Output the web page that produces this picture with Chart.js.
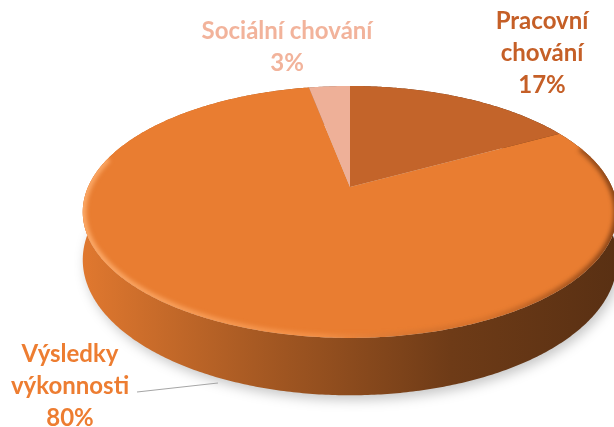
<!DOCTYPE html>
<html>
<head>
<meta charset="utf-8">
<script src="https://cdn.jsdelivr.net/npm/chart.js@4.4.1/dist/chart.umd.min.js"></script>
<style>
    html, body { margin: 0; padding: 0; background: #fff; }
    canvas { display: block; }
</style>
</head>
<body>
<canvas id="pieChart" width="614" height="427"></canvas>
<script>
const categories = [['Pracovní', 'chování'], ['Výsledky', 'výkonnosti'], ['Sociální chování']];
const shares = [17, 80, 3];
const sliceColors = ['#C3642A', '#E97D31', '#EEB098'];
const labelColors = ['#C55F27', '#ED7D31', '#F2B39B'];

// where each label block sits (first baseline, centred)
const labelAnchors = [
    { x: 542, y: 29 },
    { x: 70, y: 362 },
    { x: 287, y: 39 },
];

// perspective of the tilted disc, in units of the pie radius
const SX = 2.015;   // horizontal stretch
const SY = 0.931;   // vertical stretch
const K = 0.198;    // far side shrinks by this much
const DEPTH = 0.354; // thickness of the disc

function project(arc, a, depth) {
    const R = arc.outerRadius;
    const u = Math.cos(a);
    const v = -Math.sin(a); // positive toward the back
    const w = 1 + K * v;
    return {
        x: arc.x + SX * R * u / w,
        y: arc.y - SY * R * v / w + depth * R / w
    };
}

function edge(arc, a0, a1, depth) {
    const n = Math.max(2, Math.ceil(Math.abs(a1 - a0) / 0.01));
    const pts = [];
    for (let i = 0; i <= n; i++) {
        pts.push(project(arc, a0 + (a1 - a0) * i / n, depth));
    }
    return pts;
}

function shade(hex, f) {
    const n = parseInt(hex.slice(1), 16);
    const r = Math.round(((n >> 16) & 255) * f);
    const g = Math.round(((n >> 8) & 255) * f);
    const b = Math.round((n & 255) * f);
    return 'rgb(' + r + ',' + g + ',' + b + ')';
}

const pie3d = {
    id: 'pie3d',
    beforeDatasetsDraw(chart) {
        const ctx = chart.ctx;
        const arcs = chart.getDatasetMeta(0).data;
        const first = arcs[0];
        const R = first.outerRadius;
        const left = first.x - SX * R * 1.02;
        const right = first.x + SX * R * 1.02;

        // soft shadow under the disc
        ctx.save();
        ctx.filter = 'blur(6px)';
        ctx.fillStyle = 'rgba(0,0,0,0.22)';
        ctx.beginPath();
        edge(first, 0, Math.PI * 2, DEPTH + 0.03).forEach((p, i) => i ? ctx.lineTo(p.x + 3, p.y) : ctx.moveTo(p.x + 3, p.y));
        ctx.closePath();
        ctx.fill();
        ctx.restore();

        // outer wall of each slice
        arcs.forEach((arc, i) => {
            const top = edge(arc, arc.startAngle, arc.endAngle, 0);
            const bottom = edge(arc, arc.endAngle, arc.startAngle, DEPTH);
            const grad = ctx.createLinearGradient(left, 0, right, 0);
            grad.addColorStop(0, shade(sliceColors[i], 0.96));
            grad.addColorStop(0.32, shade(sliceColors[i], 0.72));
            grad.addColorStop(0.69, shade(sliceColors[i], 0.47));
            grad.addColorStop(1, shade(sliceColors[i], 0.38));
            ctx.save();
            ctx.fillStyle = grad;
            ctx.beginPath();
            top.concat(bottom).forEach((p, j) => j ? ctx.lineTo(p.x, p.y) : ctx.moveTo(p.x, p.y));
            ctx.closePath();
            ctx.fill();
            ctx.restore();
        });

        // top faces
        arcs.forEach((arc, i) => {
            ctx.save();
            ctx.fillStyle = sliceColors[i];
            ctx.beginPath();
            ctx.moveTo(arc.x, arc.y);
            edge(arc, arc.startAngle, arc.endAngle, 0).forEach(p => ctx.lineTo(p.x, p.y));
            ctx.closePath();
            ctx.fill();
            ctx.restore();
        });

        // bevel along the front rim
        ctx.save();
        ctx.beginPath();
        edge(first, 0, Math.PI * 2, 0).forEach((p, i) => i ? ctx.lineTo(p.x, p.y) : ctx.moveTo(p.x, p.y));
        ctx.closePath();
        ctx.clip();
        const rim = ctx.createLinearGradient(left, 0, right, 0);
        rim.addColorStop(0, 'rgba(255,178,115,0.85)');
        rim.addColorStop(0.45, 'rgba(255,165,95,0.45)');
        rim.addColorStop(0.75, 'rgba(120,55,15,0.15)');
        rim.addColorStop(1, 'rgba(80,35,8,0.65)');
        ctx.strokeStyle = rim;
        ctx.lineWidth = 7;
        ctx.filter = 'blur(2px)';
        ctx.beginPath();
        edge(first, -0.35, Math.PI + 0.25, 0).forEach((p, i) => i ? ctx.lineTo(p.x, p.y) : ctx.moveTo(p.x, p.y));
        ctx.stroke();
        ctx.restore();

        return false;
    },
    afterDraw(chart) {
        const ctx = chart.ctx;
        const total = shares.reduce((a, b) => a + b, 0);
        ctx.save();
        ctx.font = 'bold 24px Lato';
        ctx.textAlign = 'center';
        ctx.textBaseline = 'alphabetic';
        categories.forEach((lines, i) => {
            const a = labelAnchors[i];
            const text = lines.concat([Math.round(shares[i] / total * 100) + '%']);
            ctx.fillStyle = labelColors[i];
            text.forEach((t, j) => ctx.fillText(t, a.x, a.y + j * 32));
        });

        // leader line for the big slice
        ctx.strokeStyle = '#A6A6A6';
        ctx.lineWidth = 1.2;
        ctx.beginPath();
        ctx.moveTo(137, 392);
        ctx.lineTo(218, 383);
        ctx.stroke();
        ctx.restore();
    }
};

const config = {
    type: 'pie',
    data: {
        labels: categories,
        datasets: [{
            data: shares,
            backgroundColor: sliceColors,
            borderWidth: 0,
        }]
    },
    options: {
        responsive: false,
        animation: false,
        layout: {
            padding: { left: 220, right: 134, top: 57, bottom: 110 }
        },
        plugins: {
            legend: { display: false },
            tooltip: { enabled: false }
        }
    },
    plugins: [pie3d]
};

const pieChart = new Chart(document.getElementById('pieChart'), config);
</script>
</body>
</html>
